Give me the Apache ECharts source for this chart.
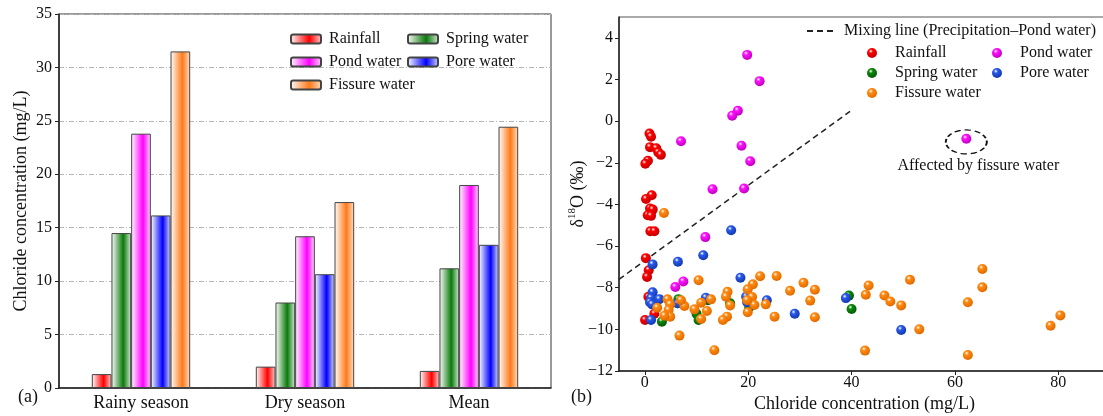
<!DOCTYPE html>
<html>
<head>
<meta charset="utf-8">
<script src="https://cdn.jsdelivr.net/npm/echarts@6/dist/echarts.min.js"></script>
<style>
html,body{margin:0;padding:0;background:#fff;}
#wrap{position:relative;width:1103px;height:416px;overflow:hidden;}
#left{position:absolute;left:0;top:0;width:555px;height:416px;}
#right{position:absolute;left:555px;top:0;width:580px;height:416px;}
</style>
</head>
<body>
<div id="wrap"><div id="left"></div><div id="right"></div></div>
<script>
// ---------- (a) bar chart data ----------
const categories = ['Rainy season', 'Dry season', 'Mean'];
const rainfallCl = [1.3, 2.0, 1.6];
const springCl = [14.5, 8.0, 11.2];
const pondCl = [23.8, 14.2, 19.0];
const poreCl = [16.15, 10.65, 13.4];
const fissureCl = [31.5, 17.4, 24.45];

// ---------- (b) scatter data: [chloride mg/L, d18O permil] ----------
const rainfallPts = [
  [0.9, -0.6], [1.2, -0.75], [1.0, -1.25], [2.2, -1.3], [2.6, -1.5], [3.1, -1.62], [0.6, -1.9], [0.1, -2.05],
  [0.23, -3.74], [1.33, -3.56], [1.0, -4.2], [1.53, -4.25], [0.56, -4.52], [1.2, -4.55], [1.07, -5.29], [1.85, -5.29],
  [0.2, -6.58], [0.75, -7.16], [0.43, -7.48], [0.68, -8.44], [1.84, -9.25], [0.04, -9.55]
];
const pondPts = [
  [19.8, 3.18], [22.2, 1.92], [18.0, 0.5], [16.9, 0.26], [7.0, -0.97], [18.7, -1.18], [20.4, -1.93],
  [13.1, -3.27], [19.2, -3.24], [11.7, -5.57], [5.9, -7.97], [7.45, -7.7], [62.2, -0.85]
];
const springPts = [
  [3.3, -9.63], [6.5, -8.55], [6.3, -8.75], [10.0, -9.25], [10.4, -9.55], [12.2, -8.6],
  [16.5, -8.75], [20.2, -8.95], [39.5, -8.38], [40.0, -9.02]
];
const porePts = [
  [1.5, -6.88], [6.4, -6.75], [11.3, -6.44], [16.7, -5.24], [18.5, -7.52], [1.5, -8.22], [1.2, -8.5],
  [1.0, -8.7], [2.8, -8.55], [1.4, -8.8], [6.4, -8.75], [11.8, -8.48], [19.6, -8.43], [19.8, -8.7],
  [23.6, -8.6], [29.0, -9.25], [38.9, -8.5], [49.6, -10.03], [1.2, -9.55]
];
const fissurePts = [
  [3.7, -4.41], [10.4, -7.64], [22.3, -7.45], [25.5, -7.44], [30.7, -7.76], [28.1, -8.15], [32.9, -8.1],
  [32.0, -8.62], [32.9, -9.42], [25.1, -9.39], [23.4, -8.8], [20.9, -7.84], [19.9, -8.08], [20.75, -8.45],
  [21.2, -8.83], [19.9, -9.18], [19.8, -8.6], [16.0, -8.2], [15.7, -8.43], [16.5, -8.85], [15.9, -9.39],
  [15.1, -9.55], [13.45, -11.0], [6.7, -10.3], [12.8, -8.56], [10.9, -8.72], [12.0, -9.12], [10.9, -9.5],
  [9.6, -9.04], [7.65, -8.88], [7.0, -8.6], [4.4, -8.56], [4.9, -8.8], [4.6, -9.07], [4.9, -9.39],
  [3.8, -9.35], [2.4, -8.96], [42.6, -11.02], [42.75, -8.34], [43.3, -7.89], [46.35, -8.37], [47.5, -8.66],
  [49.6, -8.85], [51.3, -7.62], [53.1, -10.0], [62.5, -8.7], [62.5, -11.23], [65.3, -7.1], [65.3, -7.98],
  [78.5, -9.83], [80.4, -9.33]
];
const mixingLine = [[-5, -7.6], [39.7, 0.47]];
const annotationPt = [[62.2, -1.0]];
const annotationText = 'Affected by fissure water';

const FONT = 'Liberation Serif';
const TXT = '#111111';

function barGrad(c, tint) {
  return {
    type: 'linear', x: 0, y: 0, x2: 1, y2: 0,
    colorStops: [
      {offset: 0, color: '#ffffff'},
      {offset: 0.6, color: c},
      {offset: 1, color: tint}
    ]
  };
}
function sphere(base, dark) {
  return {
    type: 'radial', x: 0.38, y: 0.32, r: 0.68,
    colorStops: [
      {offset: 0, color: '#ffffff'},
      {offset: 0.3, color: base},
      {offset: 1, color: dark}
    ]
  };
}
function minus(v) { return String(v).replace('-', '\u2212'); }

// ---------------- left chart ----------------
const left = echarts.init(document.getElementById('left'), null, {renderer: 'canvas'});
function barSeries(name, data, c, tint) {
  return {
    name: name, type: 'bar', data: data,
    barGap: '0%', barCategoryGap: '40%',
    itemStyle: {color: barGrad(c, tint), borderColor: '#444', borderWidth: 1}
  };
}
const legendText = {fontFamily: FONT, fontSize: 16, color: TXT, padding: [0, 0, 0, 3]};
left.setOption({
  animation: false,
  textStyle: {fontFamily: FONT},
  grid: {left: 59, right: 4, top: 14, bottom: 28, show: true, borderColor: '#333', borderWidth: 1,
         containLabel: false, outerBoundsMode: 'none'},
  xAxis: {
    type: 'category', data: categories,
    axisLine: {lineStyle: {color: '#222', width: 1.5}},
    axisTick: {alignWithLabel: true, length: 4, lineStyle: {color: '#222'}},
    axisLabel: {fontFamily: FONT, fontSize: 18, color: TXT, margin: 6}
  },
  yAxis: {
    type: 'value', min: 0, max: 35, interval: 5,
    name: 'Chloride concentration (mg/L)', nameLocation: 'middle', nameGap: 29, nameMoveOverlap: false,
    nameTextStyle: {fontFamily: FONT, fontSize: 18, color: TXT},
    axisLine: {show: true, lineStyle: {color: '#222', width: 1.5}},
    axisTick: {show: true, length: 4, lineStyle: {color: '#222'}},
    axisLabel: {fontFamily: FONT, fontSize: 16, color: TXT, margin: 7},
    splitLine: {show: true, lineStyle: {color: '#b5b5b5', width: 1, type: [5, 2, 1, 2]}}
  },
  legend: [
    {data: ['Rainfall', 'Pond water', 'Fissure water'], orient: 'vertical', left: 290, top: 31,
     itemWidth: 30, itemHeight: 9, itemGap: 7, padding: 0, textStyle: legendText, selectedMode: false},
    {data: ['Spring water', 'Pore water'], orient: 'vertical', left: 407, top: 31,
     itemWidth: 30, itemHeight: 9, itemGap: 7, padding: 0, textStyle: legendText, selectedMode: false}
  ],
  graphic: [
    {type: 'text', left: 18, top: 388, style: {text: '(a)', font: '18px "Liberation Serif"', fill: TXT}}
  ],
  series: [
    barSeries('Rainfall', rainfallCl, '#ff0000', '#ffd0d0'),
    barSeries('Spring water', springCl, '#0a7a0a', '#d8ead8'),
    barSeries('Pond water', pondCl, '#ff00ff', '#ffd6ff'),
    barSeries('Pore water', poreCl, '#0000ff', '#d8d8ff'),
    barSeries('Fissure water', fissureCl, '#ff7a1a', '#ffe0c8')
  ]
});

// ---------------- right chart ----------------
const right = echarts.init(document.getElementById('right'), null, {renderer: 'canvas'});
function scatterSeries(name, data, base, dark) {
  return {
    name: name, type: 'scatter', data: data, symbol: 'circle', symbolSize: 10,
    itemStyle: {color: sphere(base, dark), opacity: 1}
  };
}
const legendText2 = {fontFamily: FONT, fontSize: 16, color: TXT, padding: [0, 0, 0, 4]};
right.setOption({
  animation: false,
  textStyle: {fontFamily: FONT},
  grid: {left: 64, right: 25, top: 17, bottom: 45, show: true, borderColor: '#555', borderWidth: 1,
         containLabel: false, outerBoundsMode: 'none'},
  xAxis: {
    type: 'value', min: -5, max: 90, splitNumber: 5,
    name: 'Chloride concentration (mg/L)', nameLocation: 'middle', nameGap: 24, nameMoveOverlap: false,
    nameTextStyle: {fontFamily: FONT, fontSize: 18, color: TXT},
    axisLine: {show: true, onZero: false, lineStyle: {color: '#222', width: 1.5}},
    axisTick: {show: true, length: 4, lineStyle: {color: '#222'}},
    axisLabel: {fontFamily: FONT, fontSize: 16, color: TXT, margin: 4, showMinLabel: false, showMaxLabel: false,
                formatter: function (v) { return minus(Math.round(v)); }},
    splitLine: {show: false}
  },
  yAxis: {
    type: 'value', min: -12, max: 5, interval: 2,
    name: '{a|\u03b4}{b|18}{a|O (\u2030)}', nameLocation: 'middle', nameGap: 32, nameMoveOverlap: false,
    nameTextStyle: {fontFamily: FONT, fontSize: 18, color: TXT,
      rich: {a: {fontFamily: FONT, fontSize: 18, color: TXT, verticalAlign: 'bottom', lineHeight: 20},
             b: {fontFamily: FONT, fontSize: 11, color: TXT, verticalAlign: 'top', lineHeight: 20}}},
    axisLine: {show: true, onZero: false, lineStyle: {color: '#222', width: 1.5}},
    axisTick: {show: true, length: 4, lineStyle: {color: '#222'}},
    axisLabel: {fontFamily: FONT, fontSize: 16, color: TXT, margin: 6, showMaxLabel: false,
                formatter: function (v) { return minus(v); }},
    splitLine: {show: false}
  },
  legend: [
    {data: ['Mixing line (Precipitation\u2013Pond water)'], left: 251, top: 23, padding: 0,
     itemWidth: 28, itemHeight: 10, textStyle: legendText2, selectedMode: false},
    {data: ['Rainfall', 'Spring water', 'Fissure water'], orient: 'vertical', left: 312, top: 45, padding: 0,
     itemWidth: 28, itemHeight: 10, itemGap: 4, textStyle: legendText2, selectedMode: false},
    {data: ['Pond water', 'Pore water'], orient: 'vertical', left: 437, top: 45, padding: 0,
     itemWidth: 28, itemHeight: 10, itemGap: 4, textStyle: legendText2, selectedMode: false}
  ],
  graphic: [
    {type: 'text', left: 16, top: 388, style: {text: '(b)', font: '18px "Liberation Serif"', fill: TXT}}
  ],
  series: [
    {name: 'Mixing line (Precipitation\u2013Pond water)', type: 'line', data: mixingLine, symbol: 'none',
     lineStyle: {color: '#222', width: 1.5, type: [6, 4]}, itemStyle: {color: 'rgba(0,0,0,0)', borderWidth: 0}, z: 1},
    scatterSeries('Rainfall', rainfallPts, '#ff0000', '#c00000'),
    scatterSeries('Pond water', pondPts, '#ff10ff', '#c000c0'),
    scatterSeries('Spring water', springPts, '#0a8a0a', '#045a04'),
    scatterSeries('Pore water', porePts, '#2a5ae8', '#1238b0'),
    scatterSeries('Fissure water', fissurePts, '#ff8a10', '#e06a00'),
    {name: 'annotation', type: 'scatter', data: annotationPt, symbol: 'circle', symbolSize: [41, 24], silent: true,
     itemStyle: {color: 'rgba(0,0,0,0)', borderColor: '#111', borderWidth: 1.5, borderType: [5, 3], opacity: 1},
     label: {show: true, position: 'bottom', distance: 3, offset: [12, 0], formatter: annotationText,
             fontFamily: FONT, fontSize: 16, color: TXT, opacity: 1, textBorderWidth: 0}, z: 3}
  ]
});
</script>
</body>
</html>
